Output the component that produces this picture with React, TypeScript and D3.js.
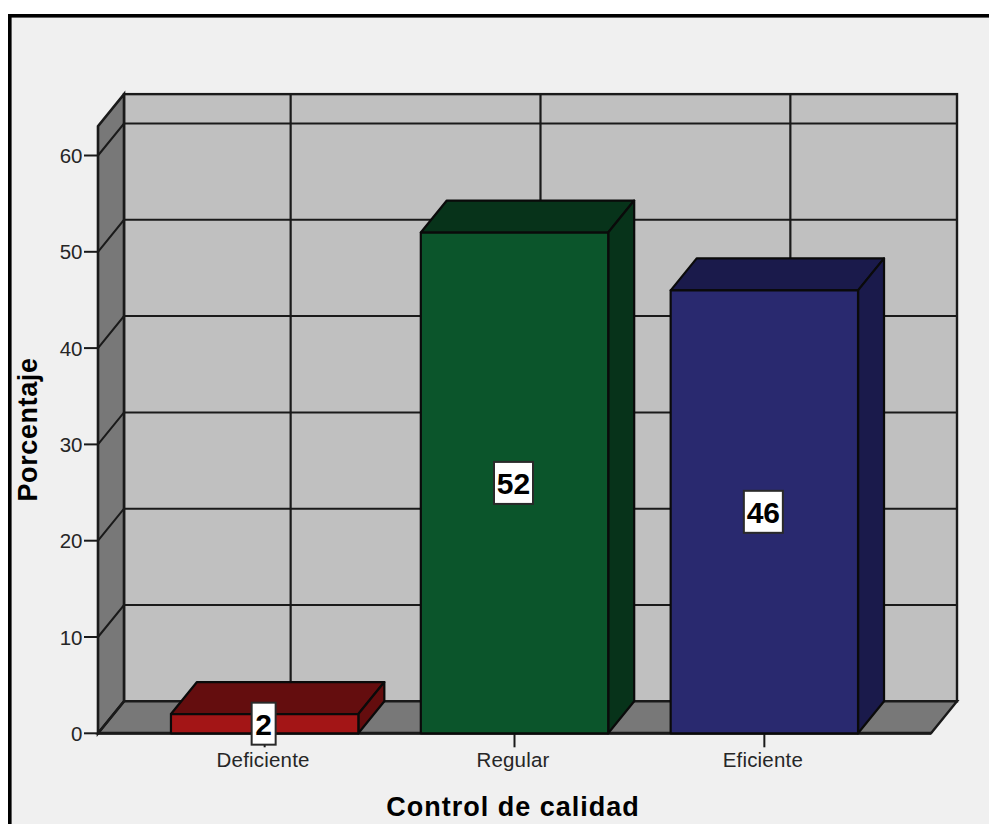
import React from "react";
import * as d3 from "d3";

const categories = ["Deficiente", "Regular", "Eficiente"];
const percentages = [2, 52, 46];
const yTicks = [0, 10, 20, 30, 40, 50, 60];
const frontColors = ["#a31516", "#0b552b", "#29296f"];
const shadeColors = ["#640d0e", "#07331a", "#1a1a4b"];

const WIDTH = 989;
const HEIGHT = 824;
const DEPTH_X = 26;
const DEPTH_Y = -32;
const AXIS_TOP = 63.05;
const LINE = "#1a1a1a";

const y = d3.scaleLinear().domain([0, 60]).range([733.3, 155.5]);
const x = d3
  .scaleBand<string>()
  .domain(categories)
  .range([98, 931])
  .paddingInner(0.25)
  .paddingOuter(0.292);

const poly = (pts: [number, number][]) => d3.line()(pts) + "Z";

export default function App() {
  const left = x.range()[0];
  const right = x.range()[1];
  const base = y(0);
  const top = y(AXIS_TOP);
  const bw = x.bandwidth();

  return (
    <svg
      width={WIDTH}
      height={HEIGHT}
      style={{ position: "absolute", left: 0, top: 0, fontFamily: "'Liberation Sans', Arial, sans-serif" }}
    >
      <rect width={WIDTH} height={HEIGHT} fill="#ffffff" />
      <rect x={9.8} y={15.8} width={WIDTH + 10} height={HEIGHT} fill="#f0f0f0" stroke="#000" strokeWidth={3.6} />

      {/* Back wall, side wall and floor of the box */}
      <rect
        x={left + DEPTH_X}
        y={top + DEPTH_Y}
        width={right - left}
        height={base - top}
        fill="#c0c0c0"
        stroke={LINE}
        strokeWidth={2.4}
      />
      <path
        d={poly([
          [left, base],
          [left, top],
          [left + DEPTH_X, top + DEPTH_Y],
          [left + DEPTH_X, base + DEPTH_Y],
        ])}
        fill="#787878"
      />
      <path
        d={poly([
          [left, base],
          [right, base],
          [right + DEPTH_X, base + DEPTH_Y],
          [left + DEPTH_X, base + DEPTH_Y],
        ])}
        fill="#787878"
        stroke={LINE}
        strokeWidth={2.4}
      />

      {/* Gridlines wrap from the side wall onto the back wall */}
      {yTicks.filter((t) => t > 0).map((t) => (
        <path
          key={t}
          d={
            d3.line()([
              [left, y(t)],
              [left + DEPTH_X, y(t) + DEPTH_Y],
              [right + DEPTH_X, y(t) + DEPTH_Y],
            ]) as string
          }
          stroke={LINE}
          strokeWidth={2}
          fill="none"
        />
      ))}
      {categories.map((c) => (
        <line
          key={c}
          x1={(x(c) as number) + bw / 2 + DEPTH_X}
          x2={(x(c) as number) + bw / 2 + DEPTH_X}
          y1={top + DEPTH_Y}
          y2={base + DEPTH_Y}
          stroke={LINE}
          strokeWidth={2.2}
        />
      ))}
      <path
        d={poly([
          [left, base],
          [left, top],
          [left + DEPTH_X, top + DEPTH_Y],
          [left + DEPTH_X, base + DEPTH_Y],
        ])}
        fill="none"
        stroke={LINE}
        strokeWidth={2.6}
      />
      <line x1={left} x2={right} y1={base} y2={base} stroke={LINE} strokeWidth={3} />

      {/* Category ticks sit below the axis, behind the value labels */}
      {categories.map((c) => (
        <line
          key={c}
          x1={(x(c) as number) + bw / 2}
          x2={(x(c) as number) + bw / 2}
          y1={base}
          y2={base + 14}
          stroke={LINE}
          strokeWidth={2}
        />
      ))}

      {/* Extruded bars */}
      {categories.map((c, i) => {
        const x0 = x(c) as number;
        const x1 = x0 + bw;
        const yv = y(percentages[i]);
        return (
          <g key={c} stroke="#0a0a0a" strokeWidth={2.2} strokeLinejoin="round">
            <path
              d={poly([
                [x0, yv],
                [x0 + DEPTH_X, yv + DEPTH_Y],
                [x1 + DEPTH_X, yv + DEPTH_Y],
                [x1, yv],
              ])}
              fill={shadeColors[i]}
            />
            <path
              d={poly([
                [x1, yv],
                [x1 + DEPTH_X, yv + DEPTH_Y],
                [x1 + DEPTH_X, base + DEPTH_Y],
                [x1, base],
              ])}
              fill={shadeColors[i]}
            />
            <rect x={x0} y={yv} width={bw} height={base - yv} fill={frontColors[i]} />
          </g>
        );
      })}

      {/* Value labels centred on each bar's front face */}
      {categories.map((c, i) => {
        const cx = (x(c) as number) + bw / 2 - 1;
        const cy = (y(percentages[i]) + base) / 2;
        const w = String(percentages[i]).length > 1 ? 39 : 24;
        return (
          <g key={c}>
            <rect x={cx - w / 2} y={cy - 21} width={w} height={42} fill="#ffffff" stroke="#2a2a2a" strokeWidth={2} />
            <text x={cx} y={cy + 11} textAnchor="middle" fontSize={30} fontWeight="bold" fill="#000">
              {percentages[i]}
            </text>
          </g>
        );
      })}

      {/* Value axis */}
      {yTicks.map((t) => (
        <g key={t}>
          <line x1={left - 14} x2={left} y1={y(t)} y2={y(t)} stroke={LINE} strokeWidth={2} />
          <text x={left - 15.5} y={y(t) + 7.5} textAnchor="end" fontSize={20.5} fill="#262626">
            {t}
          </text>
        </g>
      ))}

      {categories.map((c) => (
        <text
          key={c}
          x={(x(c) as number) + bw / 2 - 1.5}
          y={767}
          textAnchor="middle"
          fontSize={20.5}
          letterSpacing={0.2}
          fill="#262626"
        >
          {c}
        </text>
      ))}

      <text x={513} y={816} textAnchor="middle" fontSize={27} fontWeight="bold" letterSpacing={1} fill="#000">
        Control de calidad
      </text>
      <text
        transform="translate(37,429.5) rotate(-90)"
        textAnchor="middle"
        fontSize={27}
        fontWeight="bold"
        letterSpacing={0.6}
        fill="#000"
      >
        Porcentaje
      </text>
    </svg>
  );
}
